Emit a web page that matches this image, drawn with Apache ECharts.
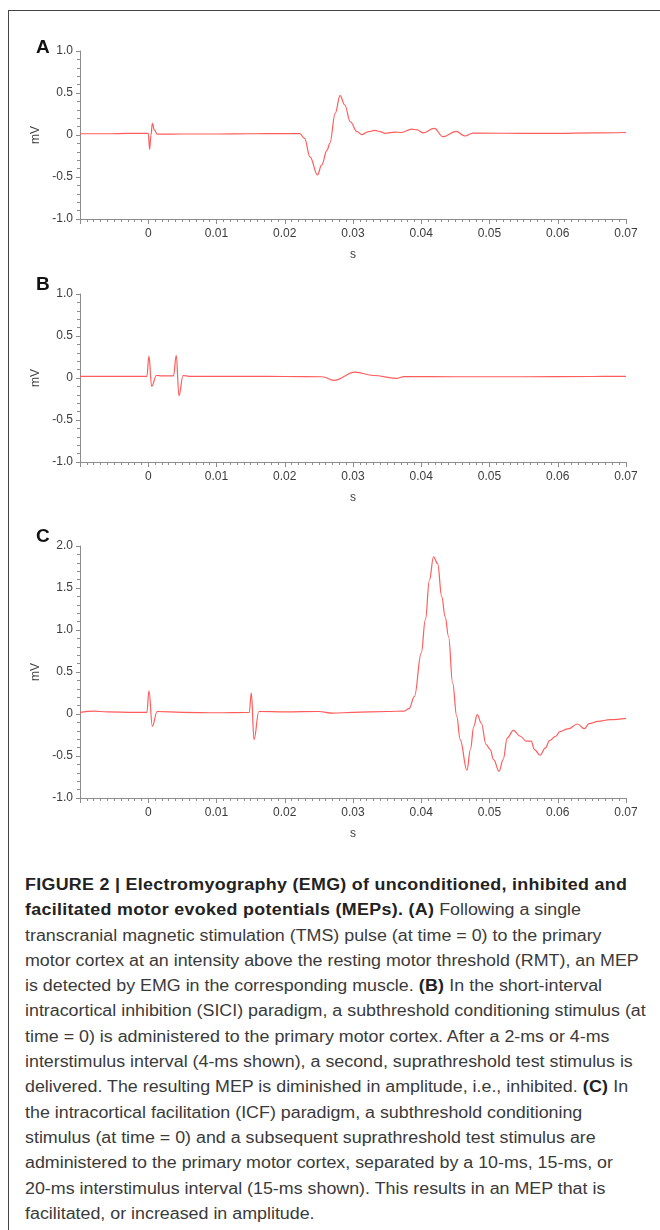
<!DOCTYPE html>
<html>
<head>
<meta charset="utf-8">
<title>EMG of MEPs</title>
<script src="https://cdn.jsdelivr.net/npm/echarts@6/dist/echarts.min.js"></script>
<style>
  html, body { margin: 0; padding: 0; background: #fff; }
  body { width: 660px; height: 1230px; position: relative; overflow: hidden; }
  #frame {
    position: absolute; left: 8px; top: 10px; right: -4px; bottom: -4px;
    border-left: 1.5px solid #444; border-top: 1.5px solid #444;
  }
  #main { position: absolute; left: 0; top: 0; width: 660px; height: 860px; }
  #caption {
    position: absolute; left: 25px; top: 872px;
    font-family: "Liberation Sans", Arial, sans-serif;
    font-size: 16px; line-height: 25.3px; color: #3a3a3a;
    white-space: nowrap;
    transform: scaleX(1.115); transform-origin: 0 0;
  }
  #caption b { color: #222; letter-spacing: 0.28px; }
</style>
</head>
<body>
<div id="frame"></div>
<div id="main"></div>
<div id="caption">
<b>FIGURE 2 | Electromyography (EMG) of unconditioned, inhibited and</b><br>
<b>facilitated motor evoked potentials (MEPs). (A)</b> Following a single<br>
transcranial magnetic stimulation (TMS) pulse (at time = 0) to the primary<br>
motor cortex at an intensity above the resting motor threshold (RMT), an MEP<br>
is detected by EMG in the corresponding muscle. <b>(B)</b> In the short-interval<br>
intracortical inhibition (SICI) paradigm, a subthreshold conditioning stimulus (at<br>
time = 0) is administered to the primary motor cortex. After a 2-ms or 4-ms<br>
interstimulus interval (4-ms shown), a second, suprathreshold test stimulus is<br>
delivered. The resulting MEP is diminished in amplitude, i.e., inhibited. <b>(C)</b> In<br>
the intracortical facilitation (ICF) paradigm, a subthreshold conditioning<br>
stimulus (at time = 0) and a subsequent suprathreshold test stimulus are<br>
administered to the primary motor cortex, separated by a 10-ms, 15-ms, or<br>
20-ms interstimulus interval (15-ms shown). This results in an MEP that is<br>
facilitated, or increased in amplitude.
</div>

<script>
// ---- data (time in s, amplitude in mV) ----
// A: single TMS pulse
var timeA = [-0.01, -0.006, -0.003, -0.0003, 0.0, 0.0002, 0.0004, 0.0006, 0.0009, 0.0013,
  0.005, 0.01, 0.015, 0.02, 0.0222, 0.0229, 0.0237, 0.0248, 0.0254, 0.0262,
  0.0266, 0.0274, 0.0281, 0.0288, 0.0296, 0.0306, 0.0313, 0.0323, 0.0332, 0.034,
  0.0347, 0.0362, 0.0371, 0.0386, 0.0394, 0.0403, 0.0419, 0.0432, 0.0451, 0.0464,
  0.0476, 0.0486, 0.055, 0.06, 0.065, 0.07];
var mvA = [0.015, 0.015, 0.02, 0.02, 0.02, -0.17, 0.0, 0.14, 0.06, 0.01,
  0.012, 0.012, 0.015, 0.016, 0.016, -0.04, -0.26, -0.476, -0.357, -0.18,
  -0.1, 0.26, 0.468, 0.357, 0.158, 0.04, 0.005, 0.04, 0.055, 0.04,
  0.02, 0.035, 0.03, 0.07, 0.06, 0.025, 0.08, -0.02, 0.042, -0.012,
  0.022, 0.022, 0.02, 0.02, 0.025, 0.03];

// B: SICI, 4 ms interval
var timeB = [-0.01, -0.005, -0.0002, 0.0001, 0.0005, 0.0012, 0.002, 0.0037, 0.0041, 0.0045,
  0.0051, 0.006, 0.01, 0.015, 0.02, 0.0255, 0.0272, 0.0303, 0.033, 0.0363,
  0.0375, 0.045, 0.055, 0.065, 0.07];
var mvB = [0.02, 0.02, 0.02, 0.26, -0.1, 0.03, 0.025, 0.025, 0.27, -0.21,
  0.03, 0.02, 0.02, 0.02, 0.018, 0.015, -0.028, 0.071, 0.03, -0.005,
  0.016, 0.015, 0.015, 0.018, 0.02];

// C: ICF, 15 ms interval
var timeC = [-0.01, -0.008, -0.006, -0.002, -0.0002, 0.0001, 0.0006, 0.0013, 0.005, 0.01,
  0.0148, 0.0151, 0.0155, 0.0162, 0.02, 0.025, 0.027, 0.03, 0.035, 0.0375,
  0.0382, 0.039, 0.04, 0.0406, 0.0412, 0.0418, 0.0424, 0.043, 0.0435, 0.044,
  0.0446, 0.0452, 0.0457, 0.0467, 0.0472, 0.0477, 0.0482, 0.0488, 0.0495, 0.0501,
  0.0506, 0.0514, 0.052, 0.0526, 0.0535, 0.0545, 0.0554, 0.0561, 0.0566, 0.0574,
  0.0582, 0.0588, 0.0597, 0.0603, 0.0615, 0.0629, 0.0639, 0.0646, 0.0659, 0.0677,
  0.07];
var mvC = [0.02, 0.035, 0.025, 0.02, 0.02, 0.277, -0.146, 0.03, 0.02, 0.015,
  0.02, 0.253, -0.305, 0.03, 0.025, 0.03, 0.01, 0.02, 0.03, 0.035,
  0.063, 0.21, 0.724, 1.12, 1.595, 1.872, 1.79, 1.397, 1.16, 0.922,
  0.368, -0.028, -0.305, -0.669, -0.423, -0.146, -0.008, -0.107, -0.364, -0.423,
  -0.542, -0.681, -0.542, -0.285, -0.194, -0.265, -0.324, -0.324, -0.423, -0.491,
  -0.404, -0.317, -0.265, -0.21, -0.178, -0.119, -0.174, -0.115, -0.087, -0.067,
  -0.051];

// axis ranges / ticks
var xMin = -0.01, xMax = 0.07, xStep = 0.01;
var yRangeAB = [-1, 1];
var yRangeC = [-1, 2];
var yStep = 0.5;
var panelLetters = ['A', 'B', 'C'];

var FONT = '"Liberation Sans", Arial, sans-serif';
var AXIS_GREY = '#8c8c8c';
var LABEL_GREY = '#3c3c3c';
var TRACE = '#ff5c5c';

function zip(t, v) {
  var out = [];
  for (var i = 0; i < t.length; i++) out.push([t[i], v[i]]);
  return out;
}

function makeX(idx) {
  return {
    type: 'value', gridIndex: idx,
    min: xMin, max: xMax, interval: xStep,
    name: 's', nameLocation: 'middle', nameGap: 30,
    nameTextStyle: { fontFamily: FONT, fontSize: 12, color: LABEL_GREY },
    axisLine: { onZero: false, lineStyle: { color: AXIS_GREY, width: 1 } },
    axisTick: { length: 5, lineStyle: { color: AXIS_GREY } },
    minorTick: { show: true, splitNumber: 10, length: 3, lineStyle: { color: AXIS_GREY } },
    splitLine: { show: false },
    axisLabel: {
      fontFamily: FONT, fontSize: 12, color: LABEL_GREY, margin: 9,
      formatter: function (v) {
        if (Math.abs(v - xMin) < 1e-9) return '';
        if (Math.abs(v) < 1e-9) return '0';
        return v.toFixed(2);
      }
    }
  };
}

function makeY(idx, range) {
  return {
    type: 'value', gridIndex: idx,
    min: range[0], max: range[1], interval: yStep,
    name: 'mV', nameLocation: 'middle', nameGap: 23,
    nameTextStyle: { fontFamily: FONT, fontSize: 12, color: LABEL_GREY },
    axisLine: { show: true, onZero: false, lineStyle: { color: AXIS_GREY, width: 1 } },
    axisTick: { show: true, length: 4, lineStyle: { color: AXIS_GREY } },
    minorTick: { show: true, splitNumber: 5, length: 3, lineStyle: { color: AXIS_GREY } },
    splitLine: { show: false },
    axisLabel: {
      fontFamily: FONT, fontSize: 12, color: LABEL_GREY, margin: 7,
      formatter: function (v) {
        if (Math.abs(v) < 1e-9) return '0';
        return v.toFixed(1);
      }
    }
  };
}

function makeSeries(idx, t, v) {
  return {
    type: 'line', xAxisIndex: idx, yAxisIndex: idx,
    data: zip(t, v),
    showSymbol: false, symbol: 'none',
    smooth: 0.4, smoothMonotone: 'x',
    lineStyle: { color: TRACE, width: 1.2 },
    silent: true, animation: false
  };
}

// panel grids (px)
var grids = [
  { left: 80, right: 34, top: 51, height: 168 },
  { left: 80, right: 34, top: 294, height: 168 },
  { left: 80, right: 34, top: 546, height: 252 }
];
var letterY = [46, 283, 535];

var myChart = echarts.init(document.getElementById('main'), null, { renderer: 'canvas' });

var option = {
  animation: false,
  backgroundColor: 'transparent',
  grid: grids,
  xAxis: [makeX(0), makeX(1), makeX(2)],
  yAxis: [makeY(0, yRangeAB), makeY(1, yRangeAB), makeY(2, yRangeC)],
  series: [
    makeSeries(0, timeA, mvA),
    makeSeries(1, timeB, mvB),
    makeSeries(2, timeC, mvC)
  ],
  graphic: panelLetters.map(function (L, i) {
    return {
      type: 'text', left: 36, top: letterY[i] - 8,
      style: { text: L, font: 'bold 19px ' + FONT, fill: '#111' }
    };
  })
};

myChart.setOption(option);
</script>
</body>
</html>
